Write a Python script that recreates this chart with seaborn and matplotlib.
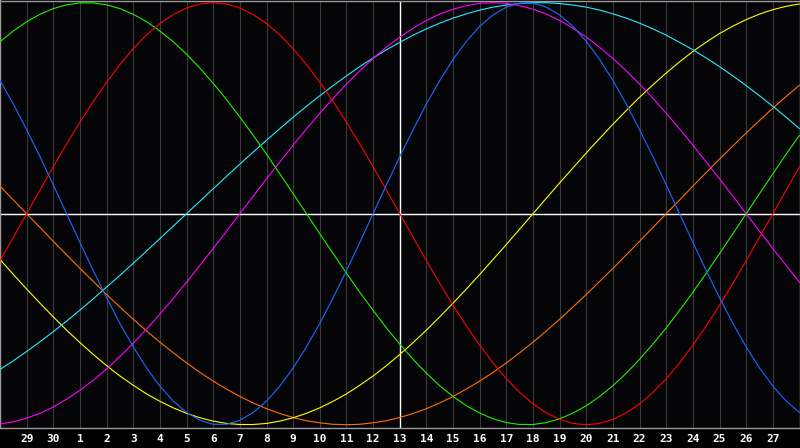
import matplotlib
matplotlib.use("Agg")
import matplotlib.pyplot as plt
import pandas as pd
import seaborn as sns

# day index 0..30 across the chart (x=0 is the 28th of the previous month)
days = list(range(31))
mid_days = [d + 0.5 for d in range(30)]
day_ticks = list(range(1, 30))
day_labels = ["29", "30"] + [str(d) for d in range(1, 28)]
today = 15  # the "13" column

# cycle values: one per day, plus one at each mid-day
physical = [0.631, 0.398, 0.136, -0.136, -0.398, -0.631, -0.817, -0.942, -0.998, -0.979, -0.888,
            -0.731, -0.520, -0.270, -0.000, 0.270, 0.520, 0.731, 0.888, 0.979, 0.998, 0.942,
            0.817, 0.631, 0.398, 0.136, -0.136, -0.398, -0.631, -0.817, -0.942]
physical_mid = [0.520, 0.270, 0.000, -0.270, -0.520, -0.731, -0.888, -0.979, -0.998, -0.942,
                -0.817, -0.631, -0.398, -0.136, 0.136, 0.398, 0.631, 0.817, 0.942, 0.998,
                0.979, 0.888, 0.731, 0.520, 0.270, -0.000, -0.270, -0.520, -0.731, -0.888]

emotional = [-0.223, 0.000, 0.223, 0.434, 0.623, 0.782, 0.901, 0.975, 1.000, 0.975, 0.901,
             0.782, 0.623, 0.434, 0.223, -0.000, -0.223, -0.434, -0.623, -0.782, -0.901, -0.975,
             -1.000, -0.975, -0.901, -0.782, -0.623, -0.434, -0.223, -0.000, 0.223]
emotional_mid = [-0.112, 0.112, 0.330, 0.532, 0.707, 0.847, 0.944, 0.994, 0.994, 0.944,
                 0.847, 0.707, 0.532, 0.330, 0.112, -0.112, -0.330, -0.532, -0.707, -0.847,
                 -0.944, -0.994, -0.994, -0.944, -0.847, -0.707, -0.532, -0.330, -0.112, 0.112]

intellectual = [0.815, 0.910, 0.972, 0.999, 0.990, 0.945, 0.866, 0.756, 0.618, 0.458, 0.282,
                0.095, -0.095, -0.282, -0.458, -0.618, -0.756, -0.866, -0.945, -0.990, -0.999,
                -0.972, -0.910, -0.815, -0.690, -0.541, -0.372, -0.189, -0.000, 0.189, 0.372]
intellectual_mid = [0.866, 0.945, 0.990, 0.999, 0.972, 0.910, 0.815, 0.690, 0.541, 0.372,
                    0.189, -0.000, -0.189, -0.372, -0.541, -0.690, -0.815, -0.910, -0.972, -0.999,
                    -0.990, -0.945, -0.866, -0.756, -0.618, -0.458, -0.282, -0.095, 0.095, 0.282]

intuitive = [-0.997, -0.969, -0.916, -0.837, -0.736, -0.614, -0.476, -0.325, -0.165, -0.000, 0.165,
             0.325, 0.476, 0.614, 0.736, 0.837, 0.916, 0.969, 0.997, 0.997, 0.969, 0.916,
             0.837, 0.736, 0.614, 0.476, 0.325, 0.165, 0.000, -0.165, -0.325]
intuitive_mid = [-0.986, -0.946, -0.879, -0.789, -0.677, -0.547, -0.402, -0.245, -0.083, 0.083,
                 0.245, 0.402, 0.547, 0.677, 0.789, 0.879, 0.946, 0.986, 1.000, 0.986,
                 0.946, 0.879, 0.789, 0.677, 0.547, 0.402, 0.245, 0.083, -0.083, -0.245]

aesthetic = [-0.217, -0.357, -0.489, -0.611, -0.720, -0.813, -0.889, -0.946, -0.983, -0.999, -0.994,
             -0.967, -0.920, -0.854, -0.769, -0.667, -0.552, -0.424, -0.288, -0.146, -0.000, 0.146,
             0.288, 0.424, 0.552, 0.667, 0.769, 0.854, 0.920, 0.967, 0.994]
aesthetic_mid = [-0.288, -0.424, -0.552, -0.667, -0.769, -0.854, -0.920, -0.967, -0.994, -0.999,
                 -0.983, -0.946, -0.889, -0.813, -0.720, -0.611, -0.489, -0.357, -0.217, -0.073,
                 0.073, 0.217, 0.357, 0.489, 0.611, 0.720, 0.813, 0.889, 0.946, 0.983]

awareness = [0.131, -0.000, -0.131, -0.259, -0.383, -0.500, -0.609, -0.707, -0.793, -0.866, -0.924,
             -0.966, -0.991, -1.000, -0.991, -0.966, -0.924, -0.866, -0.793, -0.707, -0.609, -0.500,
             -0.383, -0.259, -0.131, 0.000, 0.131, 0.259, 0.383, 0.500, 0.609]
awareness_mid = [0.065, -0.065, -0.195, -0.321, -0.442, -0.556, -0.659, -0.752, -0.831, -0.897,
                 -0.947, -0.981, -0.998, -0.998, -0.981, -0.947, -0.897, -0.831, -0.752, -0.659,
                 -0.556, -0.442, -0.321, -0.195, -0.065, 0.065, 0.195, 0.321, 0.442, 0.556]

spiritual = [-0.738, -0.653, -0.559, -0.457, -0.348, -0.235, -0.118, -0.000, 0.118, 0.235, 0.348,
             0.457, 0.559, 0.653, 0.738, 0.812, 0.876, 0.927, 0.965, 0.989, 1.000, 0.996,
             0.979, 0.947, 0.903, 0.846, 0.777, 0.697, 0.607, 0.509, 0.403]
spiritual_mid = [-0.697, -0.607, -0.509, -0.403, -0.292, -0.177, -0.059, 0.059, 0.177, 0.292,
                 0.403, 0.509, 0.607, 0.697, 0.777, 0.846, 0.903, 0.947, 0.979, 0.996,
                 1.000, 0.989, 0.965, 0.927, 0.876, 0.812, 0.738, 0.653, 0.559, 0.457]

series = [
    (awareness, awareness_mid, "#ff7000"),
    (aesthetic, aesthetic_mid, "#ffff00"),
    (spiritual, spiritual_mid, "#22eeff"),
    (intuitive, intuitive_mid, "#ff00ff"),
    (intellectual, intellectual_mid, "#22ee00"),
    (emotional, emotional_mid, "#ff0000"),
    (physical, physical_mid, "#1a6aff"),
]

sns.set_style("dark")
plt.rcParams["font.family"] = ["DejaVu Sans Mono", "DejaVu Sans"]

fig = plt.figure(figsize=(8, 4.48), dpi=100, facecolor="black")
ax = fig.add_axes([0, 20 / 448, 799.5 / 800, 427.5 / 448])
ax.set_facecolor("#050508")

ax.set_xticks(day_ticks)
ax.set_xticklabels(day_labels, color="white", fontsize=8, fontweight="bold")
ax.tick_params(axis="x", length=0, pad=4.5)
ax.set_yticks([])
ax.grid(axis="x", color="#3a3a3a", linewidth=0.8)
ax.grid(axis="y", visible=False)

ax.axhline(0, color="white", linewidth=1.0, zorder=1)
ax.axvline(today, color="white", linewidth=1.0, zorder=1)

for vals, mids, col in series:
    df = pd.DataFrame({"day": days + mid_days, "value": vals + mids}).sort_values("day")
    sns.lineplot(data=df, x="day", y="value", color=col, linewidth=0.8,
                 estimator=None, sort=False, ax=ax, zorder=3)

ax.set_xlim(0, 30)
ax.set_ylim(-1.0156, 1.0104)
ax.set_xlabel("")
ax.set_ylabel("")
for s in ax.spines.values():
    s.set_visible(True)
    s.set_color("#9a9a9a")
    s.set_linewidth(1.0)

fig.savefig("out.png", dpi=100, facecolor="black")
